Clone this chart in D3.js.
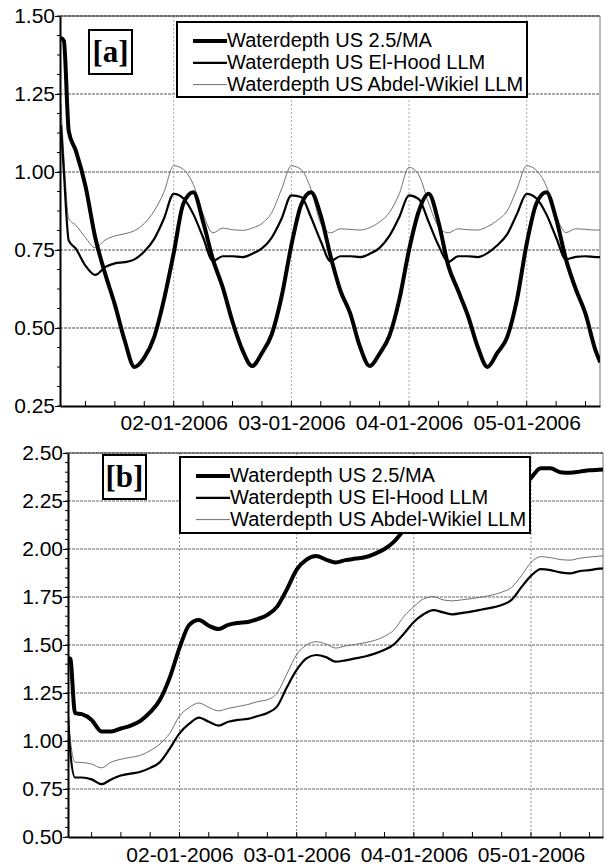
<!DOCTYPE html>
<html>
<head>
<meta charset="utf-8">
<script src="https://cdn.jsdelivr.net/npm/d3@7"></script>
<style>
  body { margin: 0; background: #fff; }
  svg { display: block; }
</style>
</head>
<body>
<script>
const hours = [1, 1.6, 2.6, 4, 6, 8, 10, 12, 14, 16, 18, 20, 22, 24, 26, 28, 30, 32, 34, 36,
  38, 40, 42, 44, 46, 48, 50, 52, 54, 56, 58, 60, 62, 64, 66, 68, 70, 72, 74, 76,
  78, 80, 82, 84, 86, 88, 90, 92, 94, 96, 98, 100, 102, 104, 106, 108, 110, 111];

// Legend names
const seriesNames = ["Waterdepth US 2.5/MA", "Waterdepth US El-Hood LLM", "Waterdepth US Abdel-Wikiel LLM"];

// Panel [a]
const maA = [1.43, 1.42, 1.13, 1.07, 0.955, 0.79, 0.675, 0.575, 0.46, 0.375, 0.405, 0.47, 0.59, 0.74, 0.90, 0.935, 0.84, 0.72, 0.63, 0.52,
  0.43, 0.378, 0.42, 0.48, 0.60, 0.765, 0.895, 0.935, 0.86, 0.73, 0.62, 0.547, 0.44, 0.378, 0.418, 0.475, 0.59, 0.75, 0.875, 0.93,
  0.84, 0.70, 0.62, 0.54, 0.44, 0.375, 0.42, 0.47, 0.59, 0.77, 0.90, 0.935, 0.85, 0.72, 0.625, 0.545, 0.43, 0.39];
const elHoodA = [1.15, 1.0, 0.78, 0.755, 0.70, 0.67, 0.695, 0.707, 0.711, 0.72, 0.745, 0.785, 0.85, 0.93, 0.915, 0.865, 0.79, 0.715, 0.73, 0.73,
  0.727, 0.738, 0.755, 0.79, 0.85, 0.925, 0.92, 0.855, 0.778, 0.714, 0.73, 0.73, 0.727, 0.738, 0.757, 0.795, 0.855, 0.925, 0.913, 0.84,
  0.765, 0.712, 0.73, 0.73, 0.727, 0.74, 0.765, 0.80, 0.865, 0.93, 0.915, 0.865, 0.79, 0.72, 0.728, 0.73, 0.727, 0.727];
const abdelA = [1.22, 1.05, 0.85, 0.83, 0.79, 0.757, 0.782, 0.795, 0.802, 0.812, 0.835, 0.875, 0.935, 1.02, 1.008, 0.96, 0.865, 0.805, 0.82, 0.815,
  0.813, 0.82, 0.835, 0.87, 0.945, 1.02, 1.008, 0.945, 0.835, 0.805, 0.818, 0.816, 0.814, 0.822, 0.84, 0.87, 0.93, 1.015, 0.99, 0.90,
  0.825, 0.805, 0.818, 0.815, 0.814, 0.825, 0.845, 0.875, 0.945, 1.02, 1.005, 0.955, 0.86, 0.806, 0.818, 0.816, 0.814, 0.814];

// Panel [b]
const maB = [1.43, 1.43, 1.145, 1.14, 1.11, 1.05, 1.05, 1.065, 1.08, 1.105, 1.15, 1.215, 1.33, 1.485, 1.605, 1.63, 1.60, 1.583, 1.605, 1.615,
  1.62, 1.635, 1.657, 1.70, 1.79, 1.893, 1.945, 1.964, 1.945, 1.93, 1.942, 1.95, 1.957, 1.975, 2.00, 2.04, 2.10, 2.16, 2.21, 2.215,
  2.20, 2.19, 2.195, 2.20, 2.21, 2.215, 2.23, 2.26, 2.32, 2.37, 2.42, 2.42, 2.40, 2.397, 2.403, 2.41, 2.413, 2.415];
const elHoodB = [1.2, 0.95, 0.81, 0.81, 0.80, 0.775, 0.80, 0.82, 0.83, 0.84, 0.86, 0.89, 0.96, 1.04, 1.09, 1.122, 1.10, 1.08, 1.10, 1.11,
  1.115, 1.13, 1.146, 1.18, 1.28, 1.37, 1.43, 1.448, 1.437, 1.413, 1.42, 1.43, 1.44, 1.455, 1.475, 1.505, 1.56, 1.62, 1.66, 1.682,
  1.67, 1.66, 1.667, 1.675, 1.685, 1.695, 1.708, 1.735, 1.80, 1.86, 1.895, 1.89, 1.878, 1.873, 1.885, 1.89, 1.898, 1.90];
const abdelB = [1.22, 1.02, 0.89, 0.888, 0.88, 0.86, 0.89, 0.905, 0.915, 0.925, 0.95, 0.985, 1.04, 1.13, 1.175, 1.198, 1.175, 1.157, 1.17, 1.18,
  1.19, 1.205, 1.215, 1.25, 1.35, 1.45, 1.50, 1.517, 1.505, 1.484, 1.495, 1.503, 1.512, 1.524, 1.545, 1.58, 1.65, 1.70, 1.74, 1.752,
  1.735, 1.73, 1.736, 1.742, 1.75, 1.76, 1.775, 1.80, 1.86, 1.93, 1.96, 1.955, 1.945, 1.942, 1.952, 1.958, 1.963, 1.965];

// Tick labels
const yTicksA = [0.25, 0.50, 0.75, 1.00, 1.25, 1.50];
const yTicksB = [0.50, 0.75, 1.00, 1.25, 1.50, 1.75, 2.00, 2.25, 2.50];
const xTickLabels = ["02-01-2006", "03-01-2006", "04-01-2006", "05-01-2006"];

// SVG area
const svgWidth = 606;
const svgHeight = 865;

const svg = d3.select("body")
  .append("svg")
  .attr("width", svgWidth)
  .attr("height", svgHeight);

const t0 = Date.UTC(2006, 0, 1);
const toDate = h => new Date(t0 + h * 3600e3);
const parseDay = d3.utcParse("%d-%m-%Y");
const fmt2 = d3.format(".2f");

const sansFont = "Arial, 'Liberation Sans', sans-serif";
const serifFont = "'Times New Roman', 'Liberation Serif', serif";

// Line styles for 2.5/MA, El-Hood, Abdel-Wikiel
const lineStyles = [
  { color: "#000", width: 4 },
  { color: "#000", width: 2.2 },
  { color: "#707070", width: 1 }
];

// Panel layouts
const panels = [
  {
    id: "a", left: 60, right: 600, top: 16, bottom: 406,
    hourDomain: [0.81, 110.95], yDomain: [0.25, 1.5], yTicks: yTicksA, yMinorStep: 0.0625,
    series: [maA, elHoodA, abdelA],
    tag: "[a]", tagBox: { x: 89, y: 30, w: 43, h: 44 },
    legend: { x: 177, y: 22, w: 350, h: 75 },
    labelGap: 9, hGrid: "#555", vGrid: "#aaa"
  },
  {
    id: "b", left: 68, right: 603, top: 453, bottom: 837,
    hourDomain: [1.16, 110.75], yDomain: [0.5, 2.5], yTicks: yTicksB, yMinorStep: 0.05,
    series: [maB, elHoodB, abdelB],
    tag: "[b]", tagBox: { x: 103, y: 455, w: 43, h: 44 },
    legend: { x: 180, y: 457, w: 350, h: 76 },
    labelGap: 10, hGrid: "#666", vGrid: "#888"
  }
];

panels.forEach(p => {
  const g = svg.append("g");

  const x = d3.scaleUtc()
    .domain(p.hourDomain.map(toDate))
    .range([p.left, p.right]);
  const y = d3.scaleLinear()
    .domain(p.yDomain)
    .range([p.bottom, p.top]);

  // clip for the data lines
  g.append("clipPath").attr("id", "clip-" + p.id)
    .append("rect")
    .attr("x", p.left).attr("y", p.top)
    .attr("width", p.right - p.left).attr("height", p.bottom - p.top);

  // horizontal gridlines
  g.append("g").selectAll("line")
    .data(p.yTicks.slice(1))
    .enter().append("line")
    .attr("x1", p.left).attr("x2", p.right)
    .attr("y1", d => y(d)).attr("y2", d => y(d))
    .attr("stroke", p.hGrid).attr("stroke-width", 1)
    .attr("stroke-dasharray", "3,1");

  // vertical gridlines at each day
  const dayTicks = xTickLabels.map(parseDay);
  g.append("g").selectAll("line")
    .data(dayTicks)
    .enter().append("line")
    .attr("x1", d => x(d)).attr("x2", d => x(d))
    .attr("y1", p.top).attr("y2", p.bottom)
    .attr("stroke", p.vGrid).attr("stroke-width", 1)
    .attr("stroke-dasharray", "2,2");

  // right border
  g.append("line")
    .attr("x1", p.right).attr("x2", p.right)
    .attr("y1", p.top).attr("y2", p.bottom)
    .attr("stroke", "#777").attr("stroke-width", 1);

  // data lines, thin first so the thick one sits on top
  const line = d3.line()
    .x((d, i) => x(toDate(hours[i])))
    .y(d => y(d))
    .curve(d3.curveMonotoneX);

  [2, 1, 0].forEach(k => {
    g.append("path")
      .datum(p.series[k])
      .attr("clip-path", `url(#clip-${p.id})`)
      .attr("fill", "none")
      .attr("stroke", lineStyles[k].color)
      .attr("stroke-width", lineStyles[k].width)
      .attr("stroke-linejoin", "round")
      .attr("d", line);
  });

  // legend box
  const lg = g.append("g").attr("transform", `translate(${p.legend.x},${p.legend.y})`);
  lg.append("rect")
    .attr("width", p.legend.w).attr("height", p.legend.h)
    .attr("fill", "#fff").attr("stroke", "#000").attr("stroke-width", 2);
  seriesNames.forEach((name, i) => {
    const base = 25 + i * 21.8;
    lg.append("line")
      .attr("x1", 16).attr("x2", 50)
      .attr("y1", base - 6).attr("y2", base - 6)
      .attr("stroke", lineStyles[i].color)
      .attr("stroke-width", lineStyles[i].width);
    lg.append("text")
      .attr("x", 50).attr("y", base)
      .attr("font-family", sansFont).attr("font-size", 20)
      .attr("fill", "#000")
      .text(name);
  });

  // panel tag
  g.append("rect")
    .attr("x", p.tagBox.x).attr("y", p.tagBox.y)
    .attr("width", p.tagBox.w).attr("height", p.tagBox.h)
    .attr("fill", "#fff").attr("stroke", "#000").attr("stroke-width", 2);
  g.append("text")
    .attr("x", p.tagBox.x + p.tagBox.w / 2).attr("y", p.tagBox.y + 32)
    .attr("text-anchor", "middle")
    .attr("font-family", serifFont).attr("font-weight", "bold").attr("font-size", 31)
    .text(p.tag);

  // top border
  g.append("line")
    .attr("x1", p.left).attr("x2", p.right)
    .attr("y1", p.top).attr("y2", p.top)
    .attr("stroke", "#333").attr("stroke-width", 1);

  // y axis with minor ticks
  const minorY = d3.range(p.yDomain[0], p.yDomain[1] + 1e-9, p.yMinorStep);
  g.append("g").selectAll("line")
    .data(minorY)
    .enter().append("line")
    .attr("x1", p.left - 3).attr("x2", p.left)
    .attr("y1", d => y(d)).attr("y2", d => y(d))
    .attr("stroke", "#000");

  const yAxis = d3.axisLeft(y)
    .tickValues(p.yTicks)
    .tickFormat(fmt2)
    .tickSize(5)
    .tickSizeOuter(0)
    .tickPadding(0);
  g.append("g")
    .attr("transform", `translate(${p.left},0)`)
    .call(yAxis)
    .call(a => a.select(".domain").attr("stroke-width", 2))
    .call(a => a.selectAll("text")
      .attr("font-family", sansFont).attr("font-size", 21).attr("fill", "#000"));

  // x axis: minor ticks every 6 hours pointing up
  const minorX = d3.utcHour.every(6).range(x.domain()[0], x.domain()[1]);
  g.append("g").selectAll("line")
    .data(minorX)
    .enter().append("line")
    .attr("x1", d => x(d)).attr("x2", d => x(d))
    .attr("y1", p.bottom - 5).attr("y2", p.bottom)
    .attr("stroke", "#000");

  const xAxis = d3.axisBottom(x)
    .tickValues(dayTicks)
    .tickFormat(d3.utcFormat("%d-%m-%Y"))
    .tickSize(0)
    .tickSizeOuter(0)
    .tickPadding(p.labelGap);
  g.append("g")
    .attr("transform", `translate(0,${p.bottom})`)
    .call(xAxis)
    .call(a => a.select(".domain").attr("stroke-width", 2))
    .call(a => a.selectAll("text")
      .attr("font-family", sansFont).attr("font-size", 21).attr("fill", "#000"));
});
</script>
</body>
</html>
